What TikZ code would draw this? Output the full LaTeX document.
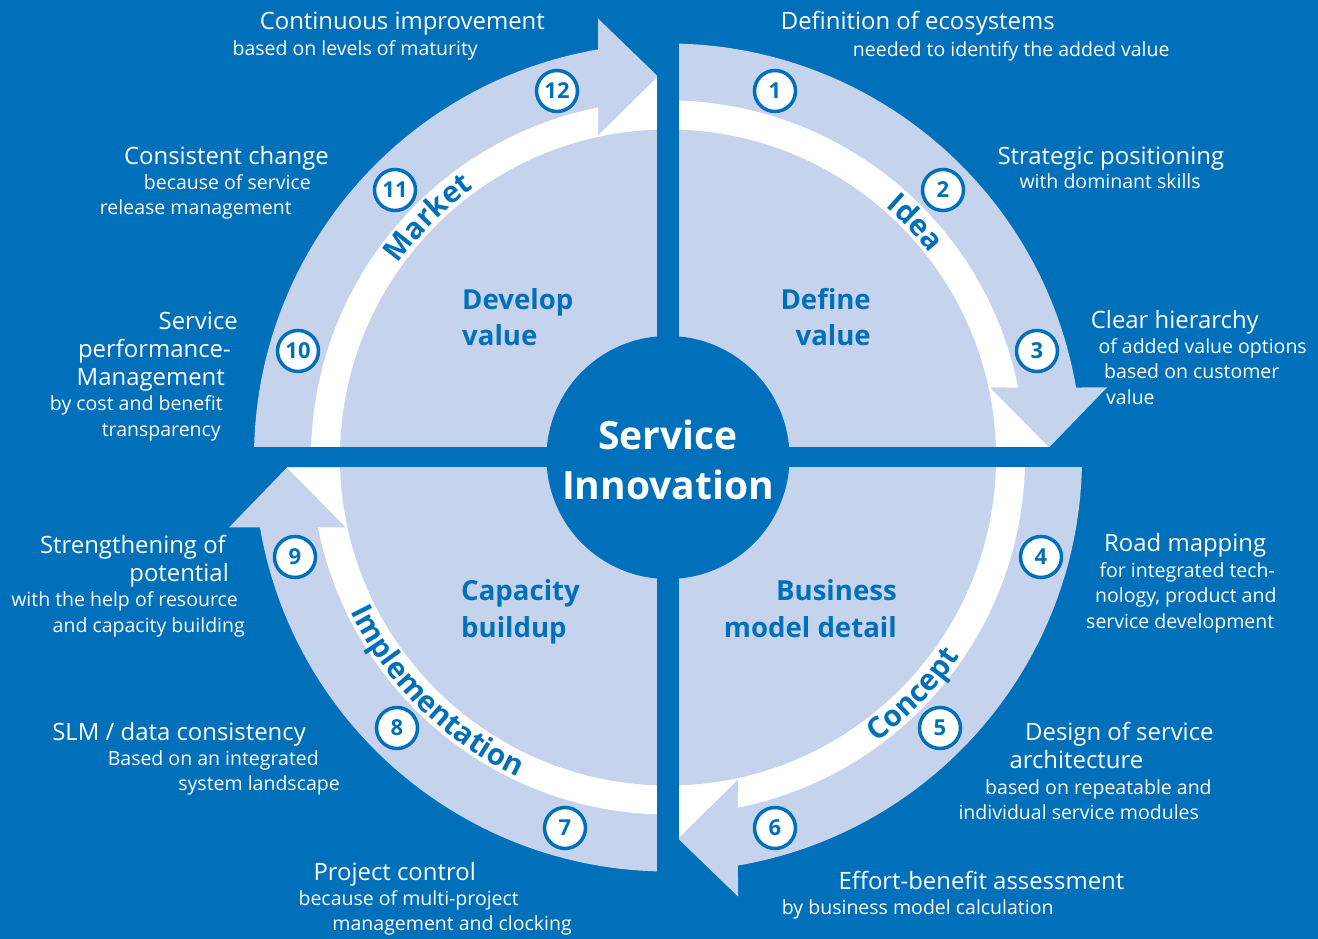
\documentclass[tikz,border=0pt]{standalone}
\usepackage{fontspec}
\setmainfont{Open Sans}
\usetikzlibrary{decorations.text}
\definecolor{bgblue}{RGB}{0,112,186}
\definecolor{lightblue}{RGB}{198,211,237}
\newcommand{\hfnt}{\fontsize{23.9}{27}\selectfont}
\newcommand{\sfnt}{\fontsize{19.5}{23}\selectfont}
\newcommand{\qfnt}{\fontsize{27.6}{30}\bfseries\selectfont}
\newcommand{\cfnt}{\fontsize{39}{44}\bfseries\selectfont}
\newcommand{\nfnt}{\fontsize{22}{22}\bfseries\selectfont}
\newcommand{\bandfnt}{\fontsize{29.5}{29.5}\bfseries\selectfont}
\newcommand{\quadshape}{%
  \fill[lightblue] (0,0) -- (90:414pt) arc[start angle=90, end angle=9.734, radius=414pt] -- (439,70) -- (381,10) -- (0,10) -- cycle;
  \fill[white] (0,0) -- (90:357pt) arc[start angle=90, end angle=11.306, radius=357pt] -- (322,70) -- (381,10) -- (0,10) -- cycle;
  \fill[lightblue] (0,0) -- (90:328pt) arc[start angle=90, end angle=0, radius=328pt] -- cycle;
}
\begin{document}
\begin{tikzpicture}[x=1pt,y=1pt,
  hl/.style={anchor=base west, inner sep=0pt, text=white, font=\hfnt},
  hr/.style={anchor=base east, inner sep=0pt, text=white, font=\hfnt},
  sl/.style={anchor=base west, inner sep=0pt, text=white, font=\sfnt},
  sr/.style={anchor=base east, inner sep=0pt, text=white, font=\sfnt},
  ql/.style={anchor=base west, inner sep=0pt, text=bgblue, font=\qfnt},
  qr/.style={anchor=base east, inner sep=0pt, text=bgblue, font=\qfnt},
  core/.style={anchor=base, inner sep=0pt, text=white, font=\cfnt},
  numc/.style={circle, fill=white, draw=bgblue, line width=3.5pt, minimum size=41pt, inner sep=0pt, text=bgblue, font=\nfnt},
  band/.style={decorate, decoration={text along path, text align=center, text color=bgblue, text={|\bandfnt|#1}}}]
\useasboundingbox (0,0) rectangle (1318,939);
\fill[bgblue] (0,0) rectangle (1318,939);
% quadrants
\begin{scope}[shift={(668,481.5)}] \quadshape \end{scope}
\begin{scope}[shift={(668,481.5)}, rotate=90] \quadshape \end{scope}
\begin{scope}[shift={(668,481.5)}, rotate=180] \quadshape \end{scope}
\begin{scope}[shift={(668,481.5)}, rotate=270] \quadshape \end{scope}
% gaps
\fill[bgblue] (657,0) rectangle (679,939);
\fill[bgblue] (0,471.5) rectangle (1318,491.5);
% centre
\node[circle, fill=bgblue, minimum size=243pt, inner sep=0pt] (hub) at (668,481.5) {};
\node[core] (hubA) at (668,489) {Service};
\node[core] (hubB) at (668,439) {Innovation};
% band labels
\begin{scope}[shift={(668,481.5)}]
  \path[band=Idea] (83.5:332pt) arc[start angle=83.5, end angle=3.5, radius=332pt];
  \path[band=Market] (175.1:332pt) arc[start angle=175.1, end angle=95.1, radius=332pt];
  \path[band=Concept] (-84:353pt) arc[start angle=-84, end angle=-4, radius=353pt];
  \path[band=Implementation] (185.3:353pt) arc[start angle=185.3, end angle=265.3, radius=353pt];
\end{scope}
% quadrant labels
\node[ql] (dv1) at (462,629.5) {Develop};
\node[ql] (dv2) at (462,593) {value};
\node[qr] (df1) at (871,629.5) {Define};
\node[qr] (df2) at (871,593) {value};
\node[ql] (cb1) at (461,338) {Capacity};
\node[ql] (cb2) at (461,301) {buildup};
\node[qr] (bm1) at (897,338) {Business};
\node[qr] (bm2) at (897,301) {model detail};
% numbers
\node[numc] (n1) at (775,848) {1};
\node[numc] (n2) at (943,749) {2};
\node[numc] (n3) at (1037,588) {3};
\node[numc] (n4) at (1041,382) {4};
\node[numc] (n5) at (940,211) {5};
\node[numc] (n6) at (775,111) {6};
\node[numc] (n7) at (565,111) {7};
\node[numc] (n8) at (397,211) {8};
\node[numc] (n9) at (295,382) {9};
\node[numc] (n10) at (298,588) {10};
\node[numc] (n11) at (395,749) {11};
\node[numc] (n12) at (557,848) {12};
% right side texts
\node[hl] (t1a) at (780.7,909.7) {Definition of ecosystems};
\node[sl] (t1b) at (852.7,882.3) {needed to identify the added value};
\node[hl] (t2a) at (997.3,774) {Strategic positioning};
\node[sl] (t2b) at (1019.3,750) {with dominant skills};
\node[hl] (t3a) at (1090.7,610.7) {Clear hierarchy};
\node[sl] (t3b) at (1098.3,585.7) {of added value options};
\node[sl] (t3c) at (1104,560) {based on customer};
\node[sl] (t3d) at (1106,534) {value};
\node[hl] (t4a) at (1104,387.3) {Road mapping};
\node[sl] (t4b) at (1099.3,361.7) {for integrated tech-};
\node[sl] (t4c) at (1095,336.3) {nology, product and};
\node[sl] (t4d) at (1086,310.7) {service development};
\node[hl] (t5a) at (1025,198) {Design of service};
\node[hl] (t5b) at (1009.3,170) {architecture};
\node[sl] (t5c) at (985,144) {based on repeatable and};
\node[sl] (t5d) at (958.3,119) {individual service modules};
\node[hl] (t6a) at (838.3,49) {Effort-benefit assessment};
\node[sl] (t6b) at (781.7,24) {by business model calculation};
% left side texts
\node[hr] (t12a) at (545,909) {Continuous improvement};
\node[sr] (t12b) at (478,883) {based on levels of maturity};
\node[hr] (t11a) at (329,774) {Consistent change};
\node[sr] (t11b) at (311,749) {because of service};
\node[sr] (t11c) at (292,724) {release management};
\node[hr] (t10a) at (238,609) {Service};
\node[hr] (t10b) at (231,581) {performance-};
\node[hr] (t10c) at (225,553) {Management};
\node[sr] (t10d) at (223,528) {by cost and benefit};
\node[sr] (t10e) at (221,502) {transparency};
\node[hr] (t9a) at (226,385) {Strengthening of};
\node[hr] (t9b) at (229,357) {potential};
\node[sr] (t9c) at (238,332) {with the help of resource};
\node[sr] (t9d) at (245,306) {and capacity building};
\node[hr] (t8a) at (306,198) {SLM / data consistency};
\node[sr] (t8b) at (319,173) {Based on an integrated};
\node[sr] (t8c) at (340,148) {system landscape};
\node[hr] (t7a) at (476,58) {Project control};
\node[sr] (t7b) at (519,33) {because of multi-project};
\node[sr] (t7c) at (572,8) {management and clocking};
\end{tikzpicture}
\end{document}
